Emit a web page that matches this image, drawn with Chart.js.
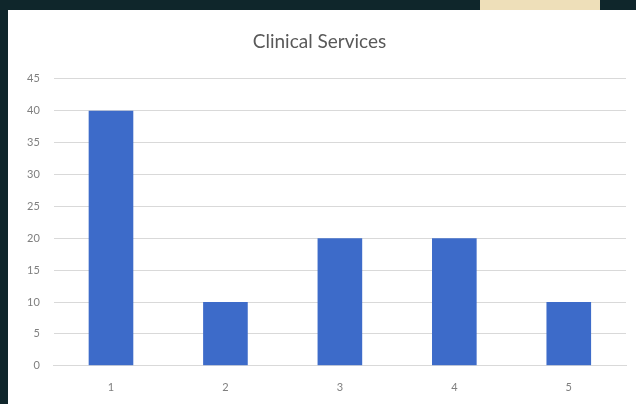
<!DOCTYPE html>
<html>
<head>
<meta charset="utf-8">
<script src="https://cdn.jsdelivr.net/npm/chart.js@4.4.0/dist/chart.umd.min.js"></script>
<style>
    body { margin: 0; background: #0f262b; width: 636px; height: 404px; overflow: hidden; position: relative; }
    #accent { position: absolute; left: 480px; top: 0; width: 120px; height: 10px; background: #eedfb9; }
    #box { position: absolute; left: 8px; top: 10px; width: 628px; height: 394px; background: #fff; }
</style>
</head>
<body>
<div id="accent"></div>
<div id="box"><canvas id="chart"></canvas></div>
<script>
const categories = ['1', '2', '3', '4', '5'];
const values = [40, 10, 20, 20, 10];
const yTicks = [0, 5, 10, 15, 20, 25, 30, 35, 40, 45];

const ctx = document.getElementById('chart').getContext('2d');
new Chart(ctx, {
    type: 'bar',
    data: {
        labels: categories,
        datasets: [{
            data: values,
            backgroundColor: '#3d6bc9',
            borderWidth: 0,
            barPercentage: 1,
            categoryPercentage: 0.39
        }]
    },
    options: {
        animation: false,
        responsive: true,
        maintainAspectRatio: false,
        layout: { padding: { left: 5, right: 10, top: 10, bottom: 3 } },
        plugins: {
            legend: { display: false },
            tooltip: { enabled: false },
            title: {
                display: true,
                text: 'Clinical Services',
                color: '#595959',
                font: { family: 'Lato', size: 19, weight: 'normal' },
                padding: { top: 10, bottom: 26 }
            }
        },
        scales: {
            x: {
                grid: { display: false },
                border: { color: '#d9d9d9' },
                ticks: { color: '#7f7f7f', font: { family: 'Lato', size: 11 }, padding: 7 }
            },
            y: {
                min: 0,
                max: 45,
                afterBuildTicks: axis => { axis.ticks = yTicks.map(v => ({ value: v })); },
                grid: { color: '#d9d9d9', drawTicks: false },
                border: { display: false },
                ticks: { color: '#7f7f7f', font: { family: 'Lato', size: 11 }, padding: 14 }
            }
        }
    }
});
</script>
</body>
</html>
